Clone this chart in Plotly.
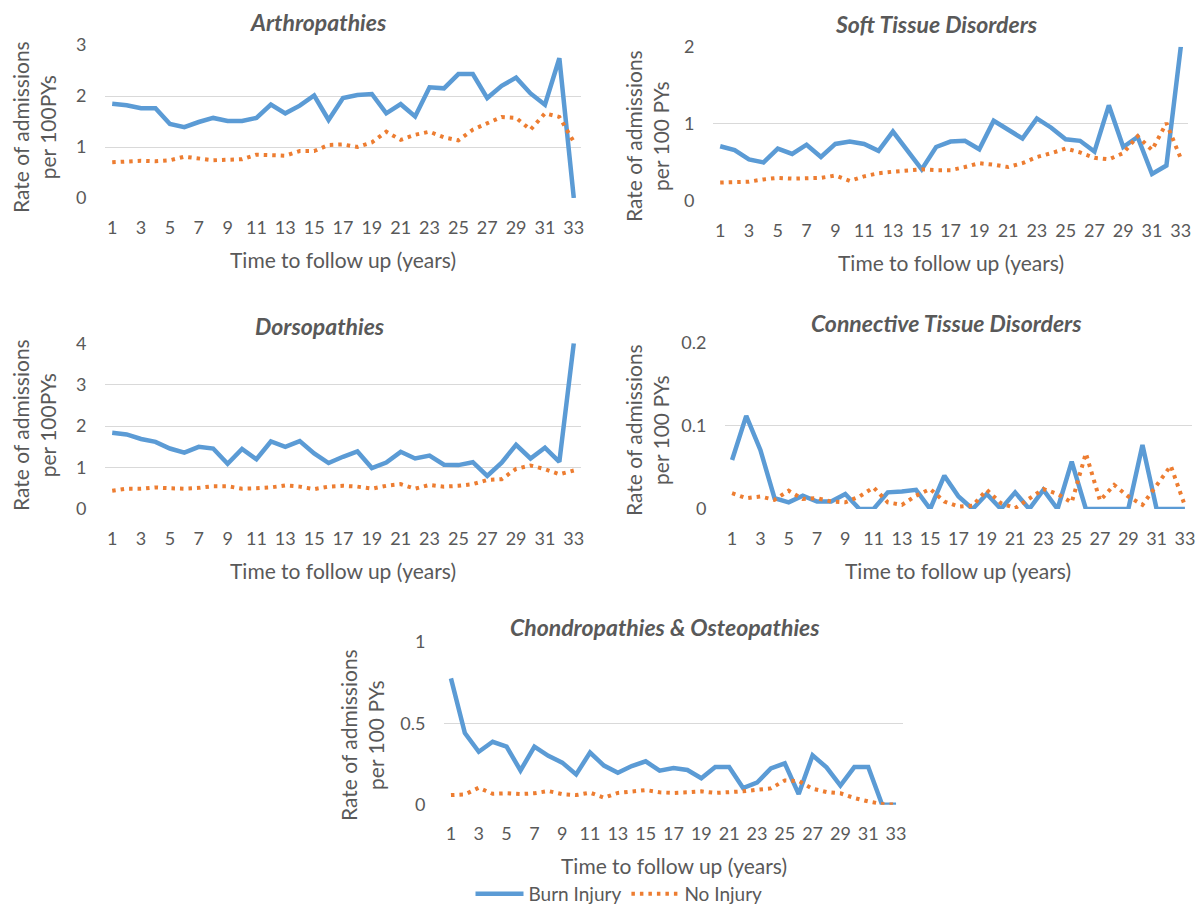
import plotly.graph_objects as go

years = list(range(1, 34))
tick_years = list(range(1, 34, 2))

arth_burn = [1.85, 1.82, 1.76, 1.76, 1.45, 1.39, 1.49, 1.57, 1.51, 1.51, 1.57, 1.83, 1.66, 1.81, 2.01, 1.53,
             1.96, 2.02, 2.04, 1.66, 1.84, 1.60, 2.17, 2.15, 2.43, 2.43, 1.96, 2.20, 2.36, 2.05, 1.83, 2.74, 0.0]
arth_none = [0.70, 0.71, 0.73, 0.72, 0.74, 0.81, 0.77, 0.74, 0.75, 0.76, 0.85, 0.84, 0.83, 0.92, 0.92, 1.04,
             1.05, 1.00, 1.09, 1.30, 1.14, 1.24, 1.30, 1.19, 1.13, 1.34, 1.47, 1.59, 1.57, 1.34, 1.66, 1.59, 1.10]

soft_burn = [0.71, 0.66, 0.54, 0.50, 0.68, 0.61, 0.73, 0.57, 0.74, 0.77, 0.74, 0.65, 0.90, 0.66, 0.41, 0.70,
             0.77, 0.78, 0.67, 1.04, 0.93, 0.81, 1.07, 0.95, 0.80, 0.78, 0.64, 1.24, 0.70, 0.83, 0.35, 0.46, 2.0]
soft_none = [0.24, 0.25, 0.25, 0.28, 0.30, 0.29, 0.30, 0.30, 0.33, 0.26, 0.32, 0.36, 0.38, 0.40, 0.41, 0.40,
             0.40, 0.44, 0.49, 0.47, 0.44, 0.49, 0.57, 0.62, 0.68, 0.63, 0.56, 0.54, 0.62, 0.84, 0.66, 1.01, 0.55]

dors_burn = [1.84, 1.80, 1.69, 1.62, 1.46, 1.36, 1.50, 1.46, 1.09, 1.45, 1.20, 1.63, 1.50, 1.64, 1.34, 1.11,
             1.26, 1.39, 0.99, 1.12, 1.38, 1.22, 1.29, 1.07, 1.06, 1.13, 0.80, 1.12, 1.55, 1.22, 1.48, 1.14, 4.0]
dors_none = [0.44, 0.49, 0.49, 0.52, 0.50, 0.49, 0.51, 0.55, 0.55, 0.49, 0.50, 0.52, 0.57, 0.54, 0.48, 0.54,
             0.56, 0.54, 0.49, 0.56, 0.60, 0.49, 0.58, 0.54, 0.56, 0.60, 0.70, 0.72, 0.97, 1.05, 0.96, 0.84, 0.93]

conn_burn = [0.059, 0.112, 0.071, 0.013, 0.008, 0.016, 0.009, 0.009, 0.018, 0.0, 0.0, 0.020, 0.021, 0.023, 0.0,
             0.040, 0.015, 0.0, 0.018, 0.0, 0.020, 0.0, 0.023, 0.0, 0.057, 0.0, 0.0, 0.0, 0.0, 0.077, 0.0, 0.0, 0.0]
conn_none = [0.019, 0.013, 0.015, 0.011, 0.022, 0.012, 0.013, 0.009, 0.008, 0.015, 0.026, 0.008, 0.005, 0.016,
             0.024, 0.009, 0.003, 0.004, 0.023, 0.007, 0.001, 0.012, 0.024, 0.018, 0.008, 0.067, 0.010, 0.029,
             0.015, 0.005, 0.029, 0.052, 0.004]

chon_burn = [0.775, 0.44, 0.325, 0.386, 0.356, 0.21, 0.356, 0.30, 0.258, 0.186, 0.32, 0.24, 0.196, 0.237, 0.266,
             0.209, 0.225, 0.213, 0.162, 0.231, 0.231, 0.102, 0.135, 0.223, 0.254, 0.065, 0.303, 0.229, 0.117,
             0.231, 0.231, 0.0, 0.0]
chon_none = [0.059, 0.063, 0.104, 0.067, 0.070, 0.065, 0.070, 0.084, 0.065, 0.059, 0.074, 0.043, 0.072, 0.078,
             0.090, 0.076, 0.072, 0.076, 0.082, 0.072, 0.074, 0.082, 0.092, 0.100, 0.149, 0.145, 0.098, 0.078,
             0.070, 0.041, 0.020, 0.004, 0.0]

panel_titles = ["Arthropathies", "Soft Tissue Disorders", "Dorsopathies",
                "Connective Tissue Disorders", "Chondropathies & Osteopathies"]
y_titles = ["Rate of admissions<br>per 100PYs", "Rate of admissions<br>per 100 PYs",
            "Rate of admissions<br>per 100PYs", "Rate of admissions<br>per 100 PYs",
            "Rate of admissions<br>per 100 PYs"]
x_title = "Time to follow up (years)"
y_ranges = [[0, 3], [0, 2], [0, 4], [0, 0.2], [0, 1]]
y_dticks = [1, 1, 1, 0.1, 0.5]
series = [(arth_burn, arth_none), (soft_burn, soft_none), (dors_burn, dors_none),
          (conn_burn, conn_none), (chon_burn, chon_none)]
legend_names = ["Burn Injury", "No Injury"]

W, H = 1199, 908
# plot area pixel boxes: (left, right, top, bottom)
boxes = [(105, 581, 45, 198), (713, 1188, 46.7, 201), (105, 581, 343.3, 509),
         (725, 1192, 342.7, 509), (444, 903, 641.7, 804.7)]
title_pos = [(318, 22), (936, 24), (320, 326), (946, 323), (665, 627)]
ytitle_pos = [(34, 127), (647, 136), (34, 425), (647, 430), (362, 735)]

BLUE = "#5B9BD5"
ORANGE = "#ED7D31"
GREY = "#595959"
FONT = "Lato, Carlito, Calibri, sans-serif"

fig = go.Figure()
layout = dict(width=W, height=H, margin=dict(l=0, r=0, t=0, b=0, pad=0, autoexpand=False), autosize=False,
              paper_bgcolor="white", plot_bgcolor="white",
              font=dict(family=FONT, color=GREY, size=18), annotations=[])

for i, (burn, none) in enumerate(series):
    n = "" if i == 0 else str(i + 1)
    l, r, t, b = boxes[i]
    fig.add_trace(go.Scatter(x=years, y=burn, mode="lines", name=legend_names[0],
                             line=dict(color=BLUE, width=4.5), legendgroup="b", showlegend=(i == 0),
                             xaxis="x" + n, yaxis="y" + n))
    fig.add_trace(go.Scatter(x=years, y=none, mode="lines", name=legend_names[1],
                             line=dict(color=ORANGE, width=4, dash="3.5px,5px"), legendgroup="n",
                             showlegend=(i == 0), xaxis="x" + n, yaxis="y" + n))
    layout["xaxis" + n] = dict(domain=[l / W, r / W], range=[0.5, 33.5], anchor="y" + n,
                               tickvals=tick_years, ticks="outside", ticklen=13,
                               tickcolor="rgba(0,0,0,0)", showgrid=False, zeroline=False,
                               showline=False, tickfont=dict(size=18, color=GREY, family=FONT),
                               fixedrange=True, automargin=False)
    layout["yaxis" + n] = dict(domain=[1 - b / H, 1 - t / H], range=y_ranges[i], dtick=y_dticks[i],
                               anchor="x" + n, showgrid=True, gridcolor="#D9D9D9", gridwidth=1.3,
                               zeroline=False, showline=False, ticks="outside", ticklen=14,
                               tickcolor="rgba(0,0,0,0)", tickfont=dict(size=18, color=GREY, family=FONT),
                               fixedrange=True, automargin=False)
    tx, ty = title_pos[i]
    layout["annotations"].append(dict(text="<b><i>" + panel_titles[i] + "</i></b>", x=tx / W, y=1 - ty / H,
                                      xref="paper", yref="paper", showarrow=False, xanchor="center",
                                      yanchor="middle", font=dict(size=23, color=GREY, family=FONT)))
    yx, yy = ytitle_pos[i]
    layout["annotations"].append(dict(text=y_titles[i], x=yx / W, y=1 - yy / H, xref="paper", yref="paper",
                                      showarrow=False, textangle=-90, xanchor="center", yanchor="middle",
                                      font=dict(size=21, color=GREY, family=FONT)))
    layout["annotations"].append(dict(text=x_title, x=((l + r) / 2) / W, y=1 - (b + 61) / H,
                                      xref="paper", yref="paper", showarrow=False, xanchor="center",
                                      yanchor="middle", font=dict(size=21, color=GREY, family=FONT)))

layout["legend"] = dict(orientation="h", x=619 / W, xanchor="center", y=1 - 894 / H, yanchor="middle",
                        font=dict(size=19, color=GREY, family=FONT), bgcolor="rgba(0,0,0,0)",
                        itemwidth=48, tracegroupgap=0)
fig.update_layout(**layout)
fig.write_html("out.html", config={"displayModeBar": False},
               post_script="document.body.style.margin='0';document.body.style.padding='0';")
